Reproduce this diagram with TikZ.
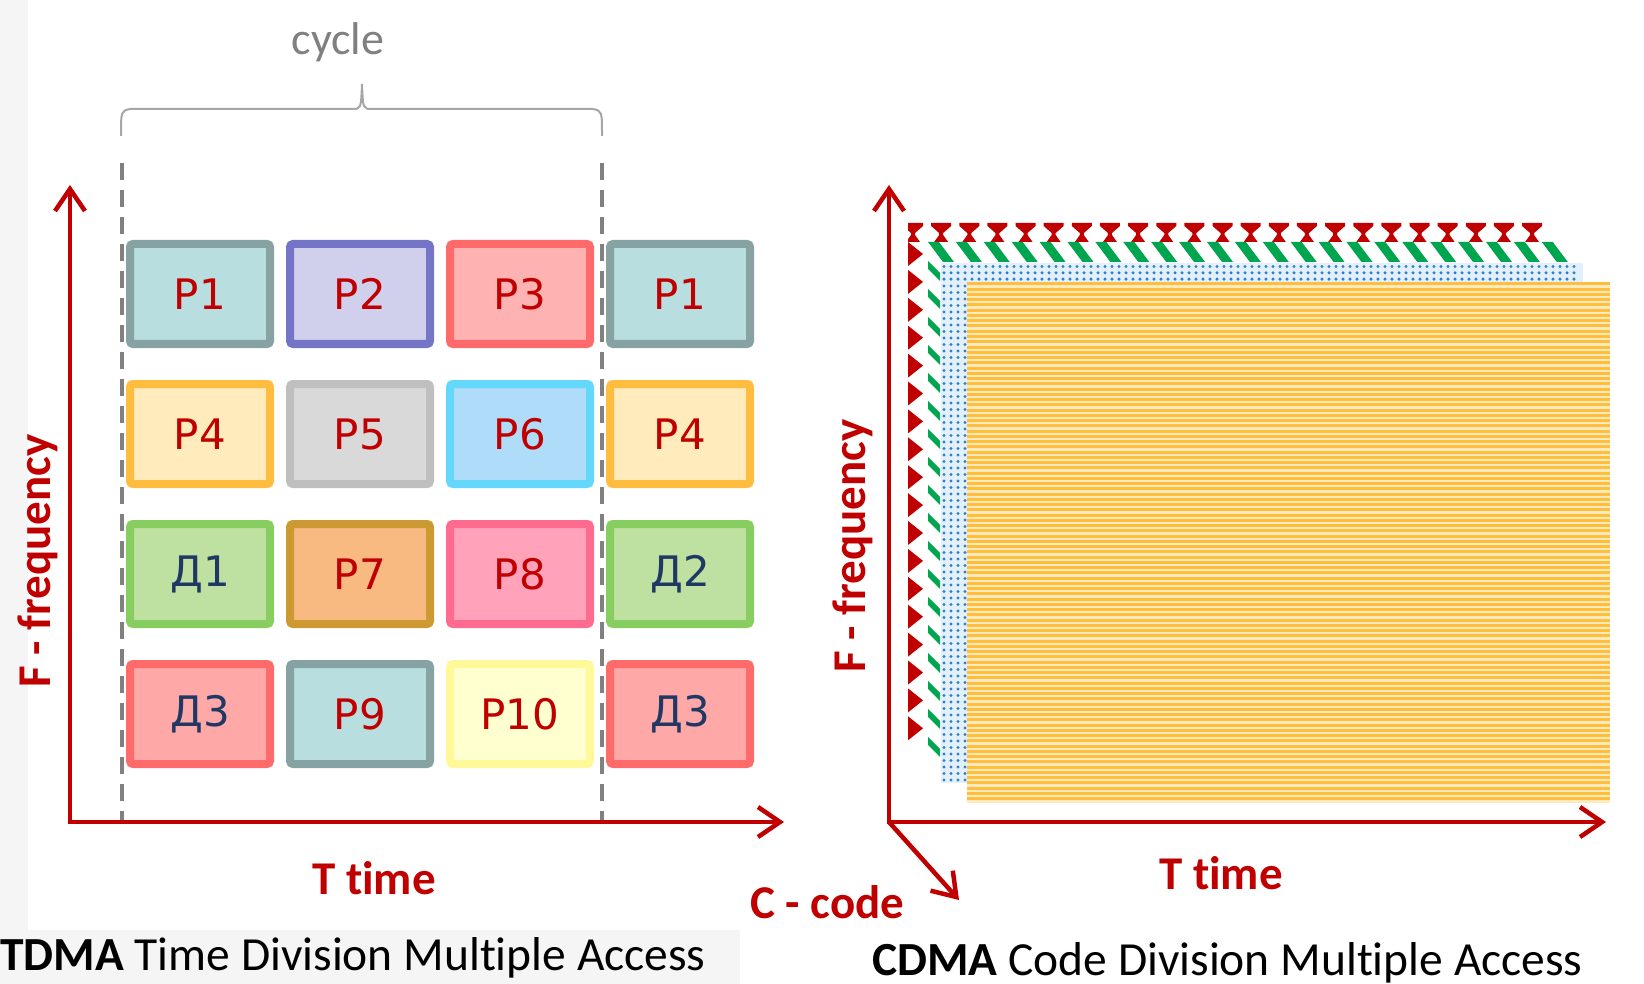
\documentclass[tikz,border=0pt]{standalone}
\usepackage{fontspec}
\setmainfont{Carlito}[Ligatures=NoCommon]
\newfontfamily\slotfont{DejaVu Sans}
\usetikzlibrary{arrows.meta}

\definecolor{axisred}{HTML}{C00000}
\definecolor{cutgrey}{HTML}{808080}
\definecolor{bracegrey}{HTML}{A6A6A6}
\definecolor{navy}{HTML}{1F3864}
\definecolor{paperGrey}{HTML}{F5F5F5}
% layer colours of the code picture
\definecolor{layRed}{HTML}{C00000}
\definecolor{layGreen}{HTML}{00A550}
\definecolor{layBlueBg}{HTML}{E2F0FB}
\definecolor{layBlue}{HTML}{2F80C8}
\definecolor{layOrBg}{HTML}{FFE9BE}
\definecolor{layOr}{HTML}{FFBE3C}

\begin{document}
\begin{tikzpicture}[x=1pt,y=-1pt,
    >={Straight Barb[length=22pt,width=30pt]},
    axis/.style={draw=axisred,line width=4.5pt},
    cutline/.style={draw=cutgrey,line width=4.5pt,dash pattern=on 17pt off 10pt},
    lbl/.style={text=axisred,font=\bfseries\fontsize{47}{56}\selectfont,inner sep=0pt},
    slot/.style={draw,line width=8pt,rounded corners=3pt,minimum width=140pt,
        minimum height=100pt,text=axisred,font=\slotfont\fontsize{42}{48}\selectfont},
    lkTeal/.style={fill={rgb,255:red,184;green,222;blue,224},draw={rgb,255:red,135;green,162;blue,162}},
    lkLilac/.style={fill={rgb,255:red,208;green,208;blue,236},draw={rgb,255:red,117;green,117;blue,200}},
    lkRose/.style={fill={rgb,255:red,255;green,178;blue,178},draw={rgb,255:red,255;green,107;blue,107}},
    lkSand/.style={fill={rgb,255:red,255;green,235;blue,187},draw={rgb,255:red,255;green,189;blue,63}},
    lkGrey/.style={fill={rgb,255:red,217;green,217;blue,217},draw={rgb,255:red,191;green,191;blue,191}},
    lkSky/.style={fill={rgb,255:red,175;green,220;blue,249},draw={rgb,255:red,99;green,216;blue,250}},
    lkLeaf/.style={fill={rgb,255:red,190;green,224;blue,160},draw={rgb,255:red,136;green,205;blue,96},text=navy},
    lkAmber/.style={fill={rgb,255:red,248;green,186;blue,128},draw={rgb,255:red,204;green,153;blue,51}},
    lkPink/.style={fill={rgb,255:red,255;green,162;blue,186},draw={rgb,255:red,255;green,107;blue,143}},
    lkLemon/.style={fill={rgb,255:red,255;green,255;blue,208},draw={rgb,255:red,255;green,249;blue,154}},
    lkCoral/.style={fill={rgb,255:red,255;green,168;blue,168},draw={rgb,255:red,255;green,107;blue,107},text=navy}]
    \useasboundingbox (0,0) rectangle (1644,984);
    \fill[paperGrey] (0,0) rectangle (28,984);
    \fill[paperGrey] (0,930) rectangle (740,984);

    % TDMA: slots over one cycle
    \coordinate (cutA top) at (122,163);
    \coordinate (cutA bot) at (122,822);
    \coordinate (cutB top) at (602,163);
    \coordinate (cutB bot) at (602,822);
    \draw[cutline] (cutA top) -- (cutA bot);
    \draw[cutline] (cutB top) -- (cutB bot);
    \draw[bracegrey,line width=2pt] (121,136) .. controls (121,111) .. (130,109) -- (352,109)
        .. controls (361,109) .. (362,84) .. controls (363,109) .. (372,109) -- (593,109)
        .. controls (602,111) .. (602,136);
    \node[text=cutgrey,font=\fontsize{46}{55}\selectfont,anchor=base,inner sep=0pt] (cycle) at (338,55) {cycle};

    \foreach \name/\i/\j/\look in {P1/0/0/lkTeal,P2/1/0/lkLilac,P3/2/0/lkRose,P1/3/0/lkTeal,
        P4/0/1/lkSand,P5/1/1/lkGrey,P6/2/1/lkSky,P4/3/1/lkSand,
        Д1/0/2/lkLeaf,P7/1/2/lkAmber,P8/2/2/lkPink,Д2/3/2/lkLeaf,
        Д3/0/3/lkCoral,P9/1/3/lkTeal,P10/2/3/lkLemon,Д3/3/3/lkCoral}
        \node[slot,\look] (s\i\j) at ({200+160*\i},{294+140*\j}) {\name};

    \coordinate (O1) at (70,822);
    \coordinate (X1) at (784,822);
    \coordinate (Y1) at (70,185);
    \draw[axis,<->] (Y1) -- (O1) -- (X1);
    \node[lbl,anchor=base] (t1) at (374,894) {T time};
    \node[lbl,rotate=90] (f1) at (38,561) {F - frequency};
    \node[anchor=base west,inner sep=0pt,font=\fontsize{47.5}{56}\selectfont] (tdma) at (0,970)
        {\textbf{TDMA} Time Division Multiple Access};

    % CDMA: stacked code layers
    \begin{scope}
        \clip (908,215) rectangle (1560,250);
        \foreach \k in {0,...,22}
            \fill[layRed] ({913+28.14*\k-10},223) -- ++(20,0) -- ++(0,3) -- ++(-8,7) -- ++(0,2)
                -- ++(5,7) -- ++(-14,0) -- ++(5,-7) -- ++(0,-2) -- ++(-8,-7) -- cycle;
    \end{scope}
    \foreach \k in {0,...,17}
        \fill[layRed] (908,{242+27.9*\k}) -- ++(15,12) -- ++(-15,12) -- cycle;
    \foreach \k in {0,...,22}
        \fill[layGreen] ({928+27.9*\k},242) -- ++(11,0) -- ++(15,20) -- ++(-11,0) -- cycle;
    \foreach \k in {0,...,17}
        \fill[layGreen] (928,{261+28*\k}) -- ++(12,12) -- ++(0,8) -- ++(-12,-12) -- cycle;
    \fill[layBlueBg] (941,263) rectangle (1583,783);
    \foreach \i in {0,...,90}
        \foreach \j in {0,1,2}
            \fill[layBlue] ({944+7*\i},{266.5+6.3*\j}) circle (1.7);
    \foreach \i in {0,...,3}
        \foreach \j in {3,...,79}
            \fill[layBlue] ({944+7*\i},{266.5+6.5*\j}) circle (1.7);
    \fill[layOrBg] (967,282) rectangle (1610,803);
    \foreach \k in {0,...,98}
        \draw[layOr,line width=3pt] (967,{284+5.25*\k}) -- (1610,{284+5.25*\k});

    \coordinate (O2) at (889,822);
    \coordinate (X2) at (1606,822);
    \coordinate (Y2) at (889,185);
    \coordinate (Z2) at (959,900);
    \draw[axis,<->] (Y2) -- (O2) -- (X2);
    \draw[axis,->] (O2) -- (Z2);
    \node[lbl,anchor=base] (t2) at (1221,889) {T time};
    \node[lbl,anchor=base west] (c2) at (750,918) {C - code};
    \node[lbl,rotate=90] (f2) at (853,546) {F - frequency};
    \node[anchor=base west,inner sep=0pt,font=\fontsize{47.5}{56}\selectfont] (cdma) at (872,975)
        {\textbf{CDMA} Code Division Multiple Access};
\end{tikzpicture}
\end{document}
